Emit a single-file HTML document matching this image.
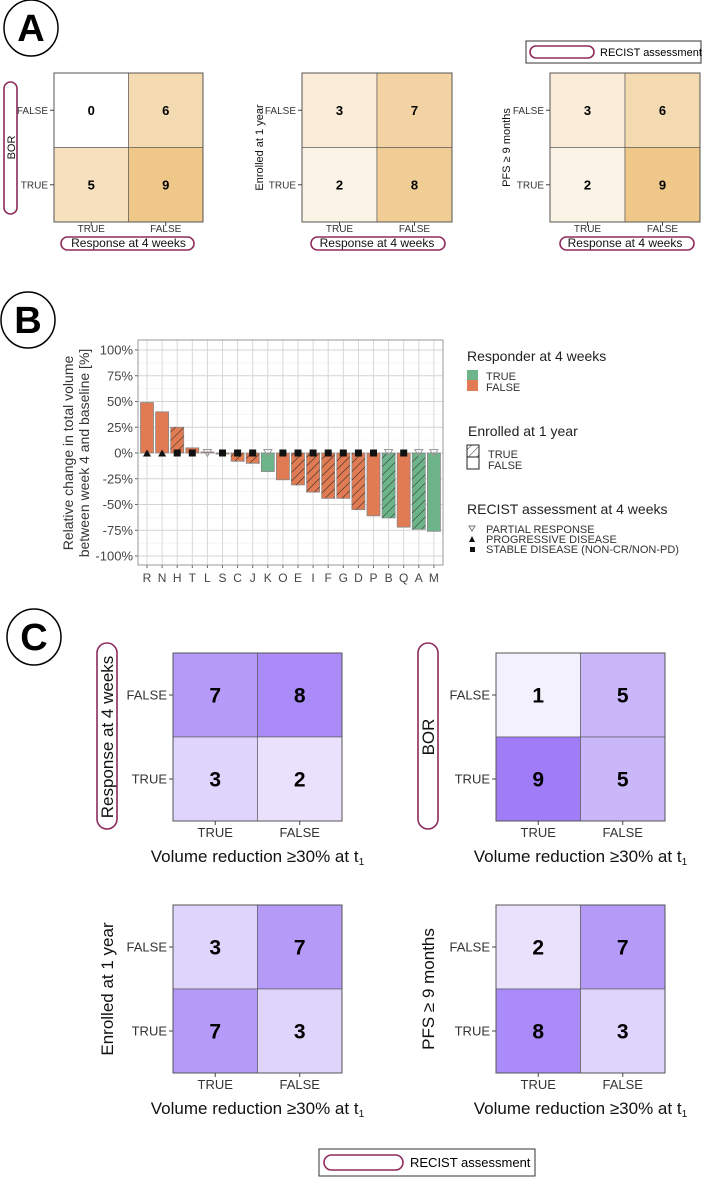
<!DOCTYPE html>
<html><head><meta charset="utf-8"><style>
html,body{margin:0;padding:0;background:#fff}
svg{display:block}
text{font-family:"Liberation Sans",sans-serif}
.n{font-family:"Liberation Sans Narrow","Liberation Sans",sans-serif}
</style></head><body>
<svg id="fig" width="710" height="1177" viewBox="0 0 710 1177" xmlns="http://www.w3.org/2000/svg">
<defs>
<pattern id="hatch" patternUnits="userSpaceOnUse" width="6" height="6" patternTransform="rotate(45)">
<line x1="0" y1="0" x2="0" y2="6" stroke="#222" stroke-width="1"/>
</pattern>
</defs>
<g id="root"></g>
</svg>
<script>
// ---------- data ----------
const heatA1 = [[0,6],[5,9]];
const heatA2 = [[3,7],[2,8]];
const heatA3 = [[3,6],[2,9]];
const heatC1 = [[7,8],[3,2]];
const heatC2 = [[1,5],[9,5]];
const heatC3 = [[3,7],[7,3]];
const heatC4 = [[2,7],[8,3]];
const rowLabels = ["FALSE","TRUE"];
const colLabels = ["TRUE","FALSE"];

const patients = ["R","N","H","T","L","S","C","J","K","O","E","I","F","G","D","P","B","Q","A","M"];
const changes = [49,40,25,5,1,-1,-8,-10,-18,-26,-31,-38,-44,-44,-55,-61,-63,-72,-74,-76];
const responder = [0,0,0,0,0,0,0,0,1,0,0,0,0,0,0,0,1,0,1,1];
const enrolled = [0,0,1,0,0,0,1,1,0,0,1,1,1,1,1,0,1,0,1,0];
const recist = ["PD","PD","SD","SD","PR","SD","SD","SD","PR","SD","SD","SD","SD","SD","SD","SD","PR","SD","PR","PR"];
const yTicks = [100,75,50,25,0,-25,-50,-75,-100];

// ---------- helpers ----------
const NS = "http://www.w3.org/2000/svg";
const root = document.getElementById('root');
function mk(tag, attrs, parent, txt){
  const e = document.createElementNS(NS, tag);
  for (const k in attrs) e.setAttribute(k, attrs[k]);
  if (txt !== undefined) e.textContent = txt;
  (parent || root).appendChild(e);
  return e;
}
function mix(c, t){
  const r = Math.round(255 + (c[0]-255)*t), g = Math.round(255 + (c[1]-255)*t), b = Math.round(255 + (c[2]-255)*t);
  return `rgb(${r},${g},${b})`;
}
const MAROON = "#8e2a5c";

function panelLabel(cx, cy, r, letter){
  const g = mk('g', {});
  
  
  mk('ellipse', {cx:cx, cy:cy, rx:r, ry:r+1, fill:'#fff', stroke:'#000', 'stroke-width':1.5}, g);
  mk('text', {x:cx, y:cy+13, 'text-anchor':'middle', 'font-size':38, 'font-weight':'bold'}, g, letter);
}

function pill(x, y, w, h, name){
  const p = mk('rect', {x:x, y:y, width:w, height:h, rx:Math.min(w,h)/2, fill:'none', stroke:MAROON, 'stroke-width':1.6});
  
  
  return p;
}

function heatmap(opt){
  const g = mk('g', {});
  
  
  const cw = opt.w/2, ch = opt.h/2;
  for (let r = 0; r < 2; r++) for (let c = 0; c < 2; c++){
    const v = opt.vals[r][c];
    const cell = mk('rect', {x:opt.x + c*cw, y:opt.y + r*ch, width:cw, height:ch, fill:mix(opt.color, v/9), stroke:'#555', 'stroke-width':0.6}, g);
    
    
    const t = mk('text', {x:opt.x + c*cw + cw/2, y:opt.y + r*ch + ch/2 + opt.nfs*0.36, 'text-anchor':'middle', 'font-size':opt.nfs, 'font-weight':'bold', class:opt.nnarrow?'n':''}, g, String(v));
    
    
  }
  mk('rect', {x:opt.x, y:opt.y, width:opt.w, height:opt.h, fill:'none', stroke:'#555', 'stroke-width':1}, g);
  for (let r = 0; r < 2; r++){
    const yy = opt.y + r*ch + ch/2;
    mk('line', {x1:opt.x-4, y1:yy, x2:opt.x, y2:yy, stroke:'#444'}, g);
    const t = mk('text', {x:opt.x-6, y:yy + opt.tfs*0.35, 'text-anchor':'end', 'font-size':opt.tfs, fill:'#333'}, g, rowLabels[r]);
    
    
  }
  for (let c = 0; c < 2; c++){
    const xx = opt.x + c*cw + cw/2;
    mk('line', {x1:xx, y1:opt.y+opt.h, x2:xx, y2:opt.y+opt.h+4, stroke:'#444'}, g);
    const t = mk('text', {x:xx, y:opt.y+opt.h+opt.tfs+opt.xlgap, 'text-anchor':'middle', 'font-size':opt.tfs, fill:'#333'}, g, colLabels[c]);
    
    
  }
  const xt = mk('text', {x:opt.x+opt.w/2, y:opt.xty, 'text-anchor':'middle', 'font-size':opt.xfs, fill:'#111', class:opt.xnarrow?'n':''}, g);
  xt.textContent = opt.xtitle;
  if (opt.sub) mk('tspan', {'font-size':opt.xfs*0.6, dy:3}, xt, '1');
  
  
  const yt = mk('text', {x:0, y:0, 'text-anchor':'middle', 'font-size':opt.yfs, fill:'#111', transform:`translate(${opt.ytx},${opt.y+opt.h/2}) rotate(-90)`}, g, opt.ytitle);
  
  
}

// ---------- Panel A ----------
panelLabel(31, 28, 27, 'A');
const ORANGE = [239,199,137];
heatmap({name:'heatmap-bor-vs-response', x:54, y:73, w:149, h:149, vals:heatA1, color:ORANGE, nfs:13, tfs:10, xlgap:0,
  xtitle:'Response at 4 weeks', xty:247, xfs:12, xnarrow:false, ytitle:'BOR', ytx:15, yfs:11});
pill(61, 237, 133, 13, 'recist-pill-response-a1');
pill(4, 82, 13, 132, 'recist-pill-bor-a1');
heatmap({name:'heatmap-enrolled-vs-response', x:302, y:73, w:150, h:149, vals:heatA2, color:ORANGE, nfs:13, tfs:10, xlgap:0,
  xtitle:'Response at 4 weeks', xty:247, xfs:12, xnarrow:false, ytitle:'Enrolled at 1 year', ytx:263, yfs:11});
pill(311, 237, 134, 13, 'recist-pill-response-a2');
heatmap({name:'heatmap-pfs-vs-response', x:550, y:73, w:150, h:149, vals:heatA3, color:ORANGE, nfs:13, tfs:10, xlgap:0,
  xtitle:'Response at 4 weeks', xty:247, xfs:12, xnarrow:false, ytitle:'PFS \u2265 9 months', ytx:510, yfs:11});
pill(560, 237, 134, 13, 'recist-pill-response-a3');
(function(){
  const g = mk('g', {});
  
  
  mk('rect', {x:526, y:41, width:175, height:22, fill:'#fff', stroke:'#333', 'stroke-width':1}, g);
  mk('rect', {x:530, y:46, width:64, height:12, rx:6, fill:'none', stroke:MAROON, 'stroke-width':1.6}, g);
  mk('text', {x:600, y:56, 'font-size':11, class:'n'}, g, 'RECIST assessment');
})();

// ---------- Panel B ----------
panelLabel(28, 320, 27, 'B');
const PX0 = 138, PX1 = 443, PY0 = 340, PY1 = 565;
const xPos = i => 147 + i * 15.1;
const yPos = v => 453 - v * 1.03;
const chart = mk('g', {});


mk('rect', {x:PX0, y:PY0, width:PX1-PX0, height:PY1-PY0, fill:'#fff'}, chart);
for (let v = -112.5; v <= 112.5; v += 12.5){
  const yy = yPos(v);
  if (yy < PY0 || yy > PY1) continue;
  const major = (v % 25 === 0);
  mk('line', {x1:PX0, y1:yy, x2:PX1, y2:yy, stroke: major ? '#d4d4d4' : '#ececec', 'stroke-width': major ? 0.9 : 0.6}, chart);
}
patients.forEach((p, i) => {
  mk('line', {x1:xPos(i), y1:PY0, x2:xPos(i), y2:PY1, stroke:'#d4d4d4', 'stroke-width':0.9}, chart);
});
yTicks.forEach(v => {
  const t = mk('text', {x:133, y:yPos(v)+4.5, 'text-anchor':'end', 'font-size':13, fill:'#444'}, chart, v + '%');
  
  
  mk('line', {x1:PX0-3, y1:yPos(v), x2:PX0, y2:yPos(v), stroke:'#666'}, chart);
});
const bw = 13;
patients.forEach((p, i) => {
  const v = changes[i];
  const y0 = Math.min(yPos(0), yPos(v)), h = Math.abs(yPos(v) - yPos(0));
  const fill = responder[i] ? '#6db48a' : '#e07b53';
  const b = mk('rect', {x:xPos(i)-bw/2, y:y0, width:bw, height:Math.max(h,0.8), fill:fill, stroke:'#888', 'stroke-width':0.8}, chart);
  
  
  if (enrolled[i]){
    const hb = mk('rect', {x:xPos(i)-bw/2, y:y0, width:bw, height:Math.max(h,0.8), fill:'url(#hatch)', stroke:'none'}, chart);
    
    
  }
  const t = mk('text', {x:xPos(i), y:582, 'text-anchor':'middle', 'font-size':12, fill:'#444'}, chart, p);
  
  
  mk('line', {x1:xPos(i), y1:PY1, x2:xPos(i), y2:PY1+3, stroke:'#666'}, chart);
});
patients.forEach((p, i) => {
  const cx = xPos(i), cy = yPos(0);
  let m;
  if (recist[i] === 'PD') m = mk('path', {d:`M${cx-4},${cy+3.5} L${cx+4},${cy+3.5} L${cx},${cy-3.5} Z`, fill:'#111'}, chart);
  else if (recist[i] === 'SD') m = mk('rect', {x:cx-3.5, y:cy-3.5, width:7, height:7, fill:'#111'}, chart);
  else m = mk('path', {d:`M${cx-4},${cy-3.5} L${cx+4},${cy-3.5} L${cx},${cy+3.5} Z`, fill:'none', stroke:'#999', 'stroke-width':1}, chart);
  
  
});
mk('rect', {x:PX0, y:PY0, width:PX1-PX0, height:PY1-PY0, fill:'none', stroke:'#999', 'stroke-width':1}, chart);
(function(){
  const t = mk('text', {'text-anchor':'middle', 'font-size':14, fill:'#333'}, chart);
  t.setAttribute('transform', 'translate(73,453) rotate(-90)');
  mk('tspan', {x:0, dy:0}, t, 'Relative change in total volume');
  mk('tspan', {x:0, dy:16}, t, 'between week 4 and baseline [%]');
  
  
})();
(function(){
  const g = mk('g', {});
  
  
  mk('text', {x:467, y:361, 'font-size':14, fill:'#222'}, g, 'Responder at 4 weeks');
  mk('rect', {x:467, y:370, width:11, height:10, fill:'#6db48a'}, g);
  mk('rect', {x:467, y:380, width:11, height:11, fill:'#e07b53'}, g);
  mk('text', {x:486, y:380, 'font-size':11, fill:'#333'}, g, 'TRUE');
  mk('text', {x:486, y:391, 'font-size':11, fill:'#333'}, g, 'FALSE');
  mk('text', {x:468, y:436, 'font-size':14, fill:'#222'}, g, 'Enrolled at 1 year');
  mk('rect', {x:467, y:445, width:12, height:12, fill:'url(#hatch)', stroke:'#222'}, g);
  mk('rect', {x:467, y:457, width:12, height:12, fill:'#fff', stroke:'#222'}, g);
  mk('text', {x:488, y:458, 'font-size':11, fill:'#333'}, g, 'TRUE');
  mk('text', {x:488, y:469, 'font-size':11, fill:'#333'}, g, 'FALSE');
  mk('text', {x:467, y:514, 'font-size':14, fill:'#222'}, g, 'RECIST assessment at 4 weeks');
  mk('path', {d:'M469,526 L475,526 L472,531 Z', fill:'none', stroke:'#777'}, g);
  mk('path', {d:'M469,542 L475,542 L472,536 Z', fill:'#111'}, g);
  mk('rect', {x:470, y:547, width:5, height:5, fill:'#111'}, g);
  mk('text', {x:486, y:533, 'font-size':11, fill:'#333'}, g, 'PARTIAL RESPONSE');
  mk('text', {x:486, y:543, 'font-size':11, fill:'#333'}, g, 'PROGRESSIVE DISEASE');
  mk('text', {x:486, y:553, 'font-size':11, fill:'#333'}, g, 'STABLE DISEASE (NON-CR/NON-PD)');
})();

// ---------- Panel C ----------
panelLabel(34, 637, 27, 'C');
const PURPLE = [160,125,246];
const vtitle = 'Volume reduction \u226530% at t';
heatmap({name:'heatmap-response-vs-volume', x:173, y:653, w:169, h:168, vals:heatC1, color:PURPLE, nfs:21, nnarrow:true, tfs:13, xlgap:3,
  xtitle:vtitle, sub:true, xty:862, xfs:17, xnarrow:true, ytitle:'Response at 4 weeks', ytx:113, yfs:17});
pill(97, 643, 20, 186, 'recist-pill-response-c');
heatmap({name:'heatmap-bor-vs-volume', x:496, y:653, w:169, h:168, vals:heatC2, color:PURPLE, nfs:21, nnarrow:true, tfs:13, xlgap:3,
  xtitle:vtitle, sub:true, xty:862, xfs:17, xnarrow:true, ytitle:'BOR', ytx:434, yfs:17});
pill(418, 643, 20, 186, 'recist-pill-bor-c');
heatmap({name:'heatmap-enrolled-vs-volume', x:173, y:905, w:169, h:168, vals:heatC3, color:PURPLE, nfs:21, nnarrow:true, tfs:13, xlgap:3,
  xtitle:vtitle, sub:true, xty:1114, xfs:17, xnarrow:true, ytitle:'Enrolled at 1 year', ytx:113, yfs:17});
heatmap({name:'heatmap-pfs-vs-volume', x:496, y:905, w:169, h:168, vals:heatC4, color:PURPLE, nfs:21, nnarrow:true, tfs:13, xlgap:3,
  xtitle:vtitle, sub:true, xty:1114, xfs:17, xnarrow:true, ytitle:'PFS \u2265 9 months', ytx:434, yfs:17});
(function(){
  const g = mk('g', {});
  
  
  mk('rect', {x:319, y:1149, width:216, height:27, fill:'#fff', stroke:'#333', 'stroke-width':1}, g);
  mk('rect', {x:324, y:1155, width:79, height:15, rx:7.5, fill:'none', stroke:MAROON, 'stroke-width':1.6}, g);
  mk('text', {x:410, y:1167, 'font-size':13, class:'n'}, g, 'RECIST assessment');
})();
</script>
</body></html>
